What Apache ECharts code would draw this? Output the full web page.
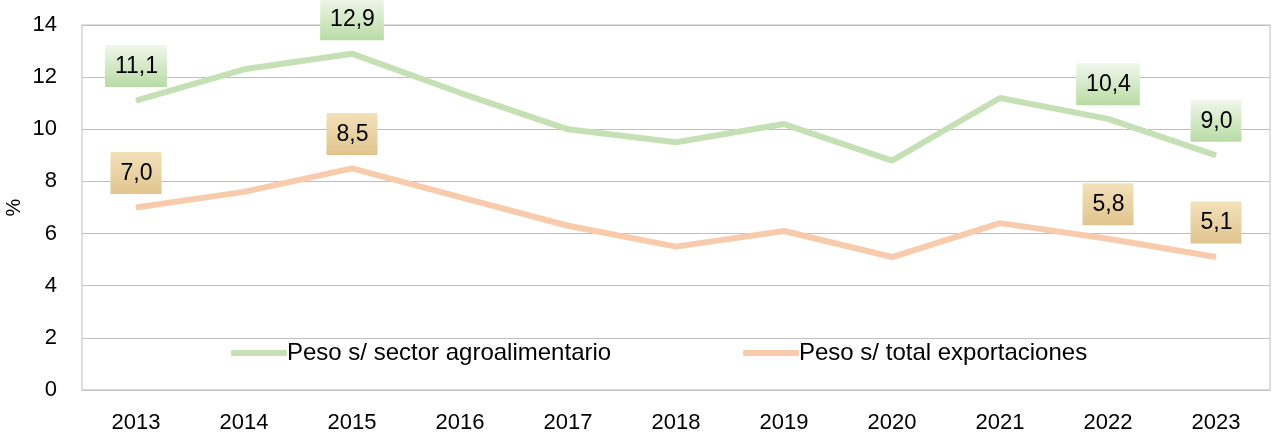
<!DOCTYPE html>
<html>
<head>
<meta charset="utf-8">
<script src="https://cdn.jsdelivr.net/npm/echarts@6/dist/echarts.min.js"></script>
<style>
  html, body { margin: 0; padding: 0; background: #fff; }
  #chart { width: 1283px; height: 436px; }
</style>
</head>
<body>
<div id="chart"></div>
<script>
const years = ['2013', '2014', '2015', '2016', '2017', '2018', '2019', '2020', '2021', '2022', '2023']
const agroValues = [11.1, 12.3, 12.9, 11.4, 10.0, 9.5, 10.2, 8.8, 11.2, 10.4, 9.0]
const exportValues = [7.0, 7.6, 8.5, 7.4, 6.3, 5.5, 6.1, 5.1, 6.4, 5.8, 5.1]
const labelledYears = ['2013', '2015', '2022', '2023']

const FONT = "'Liberation Sans', Arial, sans-serif"

// only some points carry a value box
function withLabels(values, bg) {
  return values.map((v, i) => ({
    value: v,
    label: {
      show: labelledYears.includes(years[i]),
      position: 'top',
      distance: 13,
      formatter: (p) => p.value.toFixed(1).replace('.', ','),
      fontFamily: FONT,
      fontSize: 23,
      lineHeight: 23,
      color: '#000',
      padding: [10, 9, 9, 10],
      backgroundColor: bg,
    },
  }))
}

const greenBox = new echarts.graphic.LinearGradient(0, 0, 0, 1, [
  { offset: 0, color: '#f0f7eb' },
  { offset: 1, color: '#b8dba4' },
])
const tanBox = new echarts.graphic.LinearGradient(0, 0, 0, 1, [
  { offset: 0, color: '#f3e1ba' },
  { offset: 1, color: '#e0c48e' },
])

const legendText = { fontFamily: FONT, fontSize: 24, color: '#000', padding: [0, 0, 0, -5] }

const chart = echarts.init(document.getElementById('chart'))
chart.setOption({
  animation: false,
  grid: {
    left: 82,
    right: 13,
    top: 25,
    bottom: 46,
    outerBoundsMode: 'none',
    containLabel: false,
    show: true,
    borderColor: '#bfbfbf',
    borderWidth: 1,
  },
  legend: [
    {
      left: 226,
      top: 336,
      itemWidth: 56,
      itemHeight: 6,
      icon: 'roundRect',
      textStyle: legendText,
      data: ['Peso s/ sector agroalimentario'],
    },
    {
      left: 738,
      top: 336,
      itemWidth: 56,
      itemHeight: 6,
      icon: 'roundRect',
      textStyle: legendText,
      data: ['Peso s/ total exportaciones'],
    },
  ],
  xAxis: {
    type: 'category',
    data: years,
    boundaryGap: true,
    axisTick: { show: false },
    axisLine: { lineStyle: { color: '#bfbfbf' } },
    axisLabel: { fontFamily: FONT, fontSize: 22, color: '#000', margin: 22 },
  },
  yAxis: {
    type: 'value',
    min: 0,
    max: 14,
    interval: 2,
    name: '%',
    nameLocation: 'middle',
    nameRotate: 90,
    nameGap: 58,
    nameMoveOverlap: false,
    nameTextStyle: { fontFamily: FONT, fontSize: 20, color: '#000' },
    axisLabel: { fontFamily: FONT, fontSize: 22, color: '#000', margin: 25 },
    splitLine: { lineStyle: { color: '#bfbfbf', width: 1 } },
  },
  series: [
    {
      name: 'Peso s/ sector agroalimentario',
      type: 'line',
      symbol: 'circle',
      symbolSize: 1,
      lineStyle: { width: 6, color: '#c5e0b4' },
      itemStyle: { color: '#c5e0b4' },
      data: withLabels(agroValues, greenBox),
    },
    {
      name: 'Peso s/ total exportaciones',
      type: 'line',
      symbol: 'circle',
      symbolSize: 1,
      lineStyle: { width: 6, color: '#f8cbad' },
      itemStyle: { color: '#f8cbad' },
      data: withLabels(exportValues, tanBox),
    },
  ],
})
</script>
</body>
</html>
